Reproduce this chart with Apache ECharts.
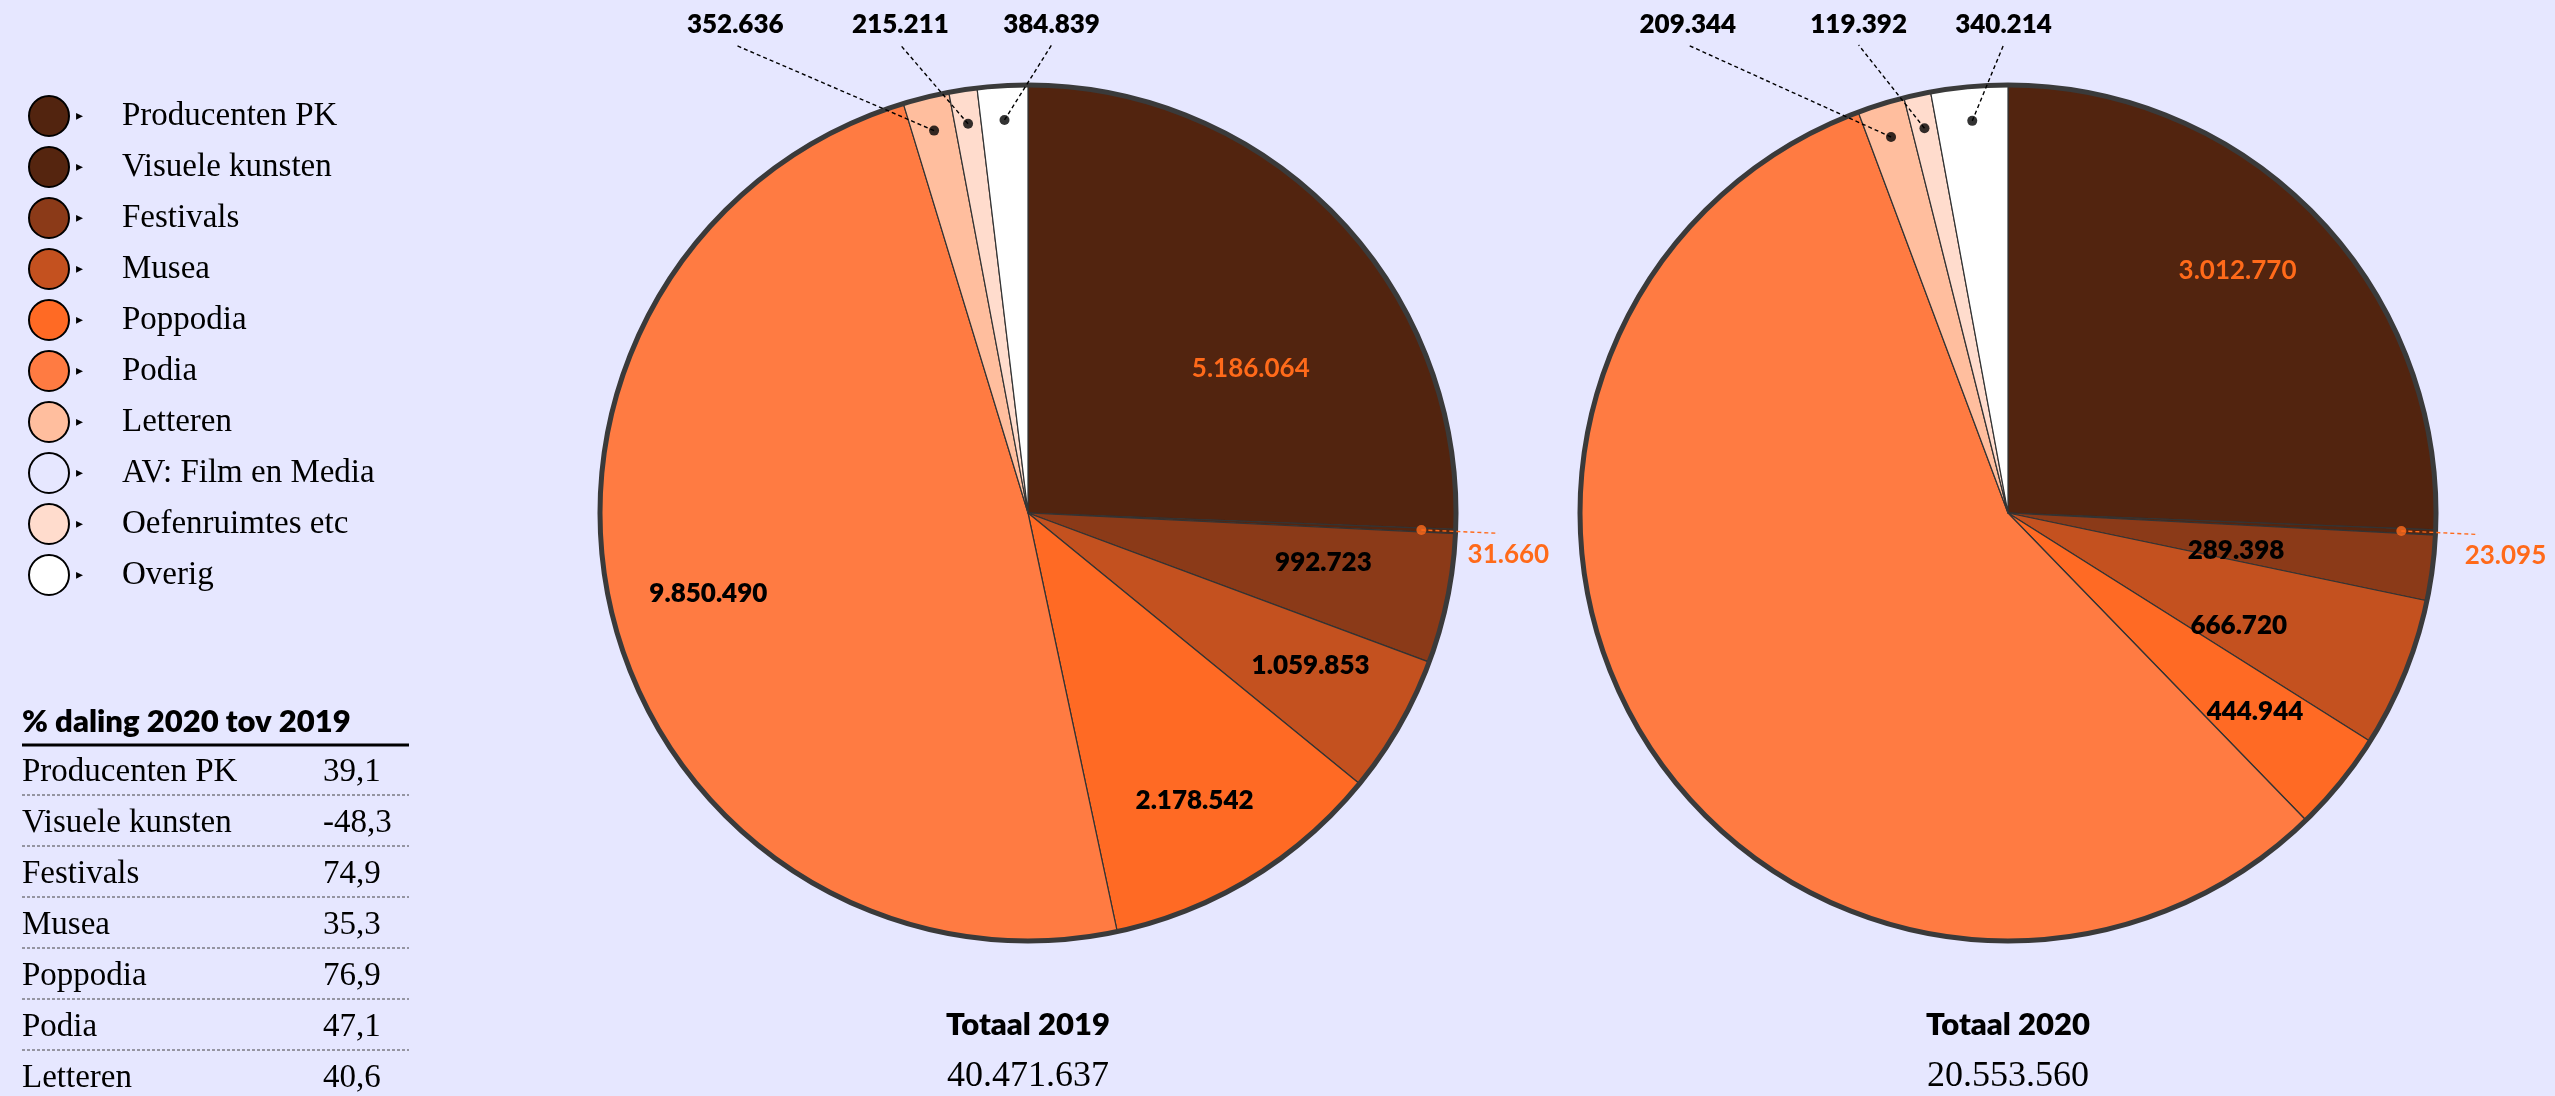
<!DOCTYPE html>
<html>
<head>
<meta charset="utf-8">
<script src="https://cdn.jsdelivr.net/npm/echarts@6/dist/echarts.min.js"></script>
<style>
html,body{margin:0;padding:0;background:#E6E7FF;}
#main{width:2555px;height:1096px;}
</style>
</head>
<body>
<div id="main"></div>
<script>
// ---------------- DATA ----------------
const categories = ['Producenten PK','Visuele kunsten','Festivals','Musea','Poppodia','Podia','Letteren','AV: Film en Media','Oefenruimtes etc','Overig'];
const values2019 = [5186064, 31660, 992723, 1059853, 2178542, 9850490, 352636, 0, 215211, 384839];
const values2020 = [3012770, 23095, 289398, 666720, 444944, 6650000, 209344, 0, 119392, 340214];
const years = ['2019', '2020'];
const totalLabels = ['40.471.637', '20.553.560'];
const tableTitle = '% daling 2020 tov 2019';
const declineCategories = ['Producenten PK','Visuele kunsten','Festivals','Musea','Poppodia','Podia','Letteren'];
const declineValues = ['39,1','-48,3','74,9','35,3','76,9','47,1','40,6'];

// ---------------- STYLE ----------------
const BG = '#E6E7FF';
const colors = ['#52240F','#55250F','#8B3A18','#C4511F','#FF6A24','#FF7B42','#FFBE9E',BG,'#FFDCCD','#FFFFFF'];
const ORANGE = '#FF6A1A';
const SANS = 'Lato, "Noto Sans", sans-serif';
const SERIF = '"Liberation Serif", "DejaVu Serif", serif';
const R = 428;
const POLAR_SCALE = 2;   // polar helper system is twice the pie radius (avoids clipping of leader lines)
const DOT_R = 0.92;
const SIDE_R = 1.10;
const TOP_TEXT_Y = 25, TOP_LINE_Y = 45;
const SIDE = 1;

const pies = [
  { center: [1028, 513], values: values2019, year: years[0], total: totalLabels[0], sideX: 1.027,
    inside: {0: [0.62, 11], 2: [0.70, -2], 3: [0.75, -1.5], 4: [0.776, 1.3], 5: [0.77, 0.4]},
    top: {6: -0.684, 8: -0.298, 9: 0.055}, hidden: [] },
  { center: [2008, 513], values: values2020, year: years[1], total: totalLabels[1], sideX: 1.067,
    inside: {0: [0.78, -2.7], 2: [0.54, 2], 3: [0.60, 4], 4: [0.74, -0.3]},
    top: {6: -0.748, 8: -0.349, 9: -0.0105}, hidden: [5] }
];

function fmt(v) { return String(v).replace(/\B(?=(\d{3})+(?!\d))/g, '.'); }
function sum(a) { return a.reduce((s, v) => s + v, 0); }
function cumMids(a) { let c = 0; return a.map(v => { const m = c + v / 2; c += v; return m; }); }

const chart = echarts.init(document.getElementById('main'), null, {renderer: 'canvas'});

function itemOpts(p, i) {
  const base = {fontFamily: SANS, fontSize: 26};
  if (p.hidden.indexOf(i) >= 0 || p.values[i] === 0) {
    return {label: {show: false}, labelLine: {show: false}};
  }
  if (p.inside[i]) {
    return {label: Object.assign({}, base, {show: true, position: 'inside', color: i === 0 ? ORANGE : '#000',
      fontWeight: i === 0 ? 700 : 800}), labelLine: {show: false}};
  }
  if (p.top[i] !== undefined) {
    return {label: Object.assign({}, base, {show: true, position: 'inside', color: '#000', fontWeight: 800}),
      labelLine: {show: false}};
  }
  if (i === SIDE) {
    return {label: Object.assign({}, base, {show: true, position: 'inside', color: ORANGE, fontWeight: 700}),
      labelLine: {show: false}};
  }
  return {label: {show: false}, labelLine: {show: false}};
}

function layoutFor(pIdx) {
  const p = pies[pIdx];
  return function (params) {
    const i = params.dataIndex;
    let lay = null;
    try { lay = chart.getModel().getSeriesByIndex(params.seriesIndex).getData().getItemLayout(i); } catch (e) {}
    if (!lay) return {};
    const cx = lay.cx, cy = lay.cy, r = lay.r;
    const mid = (lay.startAngle + lay.endAngle) / 2;
    if (p.inside[i]) {
      const a = mid + p.inside[i][1] * Math.PI / 180;
      const k = p.inside[i][0];
      return {x: cx + k * r * Math.cos(a), y: cy + k * r * Math.sin(a), align: 'center', verticalAlign: 'middle'};
    }
    if (p.top[i] !== undefined) {
      return {x: cx + p.top[i] * r, y: TOP_TEXT_Y, align: 'center', verticalAlign: 'middle'};
    }
    if (i === SIDE) {
      const endY = cy + SIDE_R * r * Math.sin(mid);
      return {x: cx + p.sideX * r, y: endY + 21, align: 'left', verticalAlign: 'middle'};
    }
    return {};
  };
}

const series = [];
pies.forEach((p, k) => {
  series.push({
    type: 'pie', name: 'pie' + p.year, center: p.center, radius: R, startAngle: 90, clockwise: true,
    avoidLabelOverlap: false, animation: false, silent: true,
    emphasis: {disabled: true},
    itemStyle: {borderColor: '#333', borderWidth: 1.2},
    labelLayout: layoutFor(k),
    label: {formatter: (d) => fmt(d.value)},
    data: categories.map((name, i) => Object.assign({
      name: name, value: p.values[i],
      itemStyle: {color: colors[i], borderWidth: p.values[i] === 0 ? 0 : 1.2}
    }, itemOpts(p, i)))
  });
});
pies.forEach((p) => {
  series.push({
    type: 'pie', name: 'outline' + p.year, center: p.center, radius: R, silent: true, animation: false,
    legendHoverLink: false, emphasis: {disabled: true}, label: {show: false}, labelLine: {show: false},
    itemStyle: {color: 'rgba(0,0,0,0)', borderColor: '#3a3a3a', borderWidth: 5},
    data: [{value: 1, name: ''}]
  });
});
pies.forEach((p, k) => {
  const mids = cumMids(p.values);
  const pts = [];
  categories.forEach((c, i) => {
    if (p.values[i] > 0 && (p.top[i] !== undefined || i === SIDE)) {
      pts.push({value: [DOT_R, mids[i]], itemStyle: {color: i === SIDE ? ORANGE : '#000'}});
    }
  });
  series.push({
    type: 'scatter', coordinateSystem: 'polar', polarIndex: k, symbol: 'circle', symbolSize: 10,
    silent: true, animation: false, z: 10, data: pts
  });
});

// graphic: table and totals
const graphic = [];
const TX = 22, TW = 387, VX = 323;
graphic.push({type: 'text', x: TX, y: 722, style: {text: tableTitle, fontFamily: SANS, fontWeight: 800, fontSize: 31, fill: '#000', align: 'left', verticalAlign: 'middle'}});
graphic.push({type: 'line', shape: {x1: TX, y1: 745, x2: TX + TW, y2: 745}, style: {stroke: '#000', lineWidth: 3}});
declineCategories.forEach((c, i) => {
  const y = 772 + 51 * i;
  graphic.push({type: 'text', x: TX, y: y, style: {text: c, fontFamily: SERIF, fontSize: 33, fill: '#000', align: 'left', verticalAlign: 'middle'}});
  graphic.push({type: 'text', x: VX, y: y, style: {text: declineValues[i], fontFamily: SERIF, fontSize: 33, fill: '#000', align: 'left', verticalAlign: 'middle'}});
  graphic.push({type: 'line', shape: {x1: TX, y1: y + 23, x2: TX + TW, y2: y + 23}, style: {stroke: '#444', lineWidth: 1, lineDash: [3, 2]}});
});
pies.forEach((p) => {
  graphic.push({type: 'text', x: p.center[0], y: 1025, style: {text: 'Totaal ' + p.year, fontFamily: SANS, fontWeight: 800, fontSize: 31, fill: '#000', align: 'center', verticalAlign: 'middle'}});
  graphic.push({type: 'text', x: p.center[0], y: 1077, style: {text: p.total, fontFamily: SERIF, fontSize: 36, fill: '#000', align: 'center', verticalAlign: 'middle'}});
});

const option = {
  backgroundColor: BG,
  animation: false,
  legend: {
    data: categories, orient: 'vertical', left: 23, top: 90, itemWidth: 40, itemHeight: 40, itemGap: 9,
    icon: 'circle', selectedMode: false,
    itemStyle: {borderColor: '#000', borderWidth: 2},
    formatter: (name) => '{t|\u25B8}{n|' + name + '}',
    textStyle: {rich: {
      t: {fontSize: 14, fontFamily: '"DejaVu Sans"', color: '#000', width: 46, padding: [0, 0, 0, 2], lineHeight: 40},
      n: {fontSize: 33, fontFamily: SERIF, color: '#000', lineHeight: 40}
    }}
  },
  polar: pies.map(p => ({center: p.center, radius: R * POLAR_SCALE})),
  angleAxis: pies.map((p, k) => ({polarIndex: k, type: 'value', min: 0, max: sum(p.values), startAngle: 90, clockwise: true, show: false})),
  radiusAxis: pies.map((p, k) => ({polarIndex: k, type: 'value', min: 0, max: POLAR_SCALE, show: false})),
  graphic: graphic,
  series: series
};
chart.setOption(option);

// leader lines drawn as polar line series (dot -> label anchor)
function toPolar(k, px) {
  let v = null;
  try { v = chart.convertFromPixel({polarIndex: k}, px); } catch (e) {}
  if (v && isFinite(v[0]) && isFinite(v[1])) return v;
  const p = pies[k];
  const dx = px[0] - p.center[0], dy = px[1] - p.center[1];
  let deg = Math.atan2(dx, -dy) * 180 / Math.PI; if (deg < 0) deg += 360;
  return [Math.sqrt(dx * dx + dy * dy) / R, deg / 360 * sum(p.values)];
}
const leaders = [];
pies.forEach((p, k) => {
  const mids = cumMids(p.values);
  Object.keys(p.top).forEach(key => {
    const i = +key;
    const end = toPolar(k, [p.center[0] + p.top[i] * R, TOP_LINE_Y]);
    leaders.push({type: 'line', coordinateSystem: 'polar', polarIndex: k, clip: false, symbol: 'none', silent: true,
      animation: false, z: 9, lineStyle: {color: '#000', width: 1.4, type: [4, 3]},
      data: [[DOT_R, mids[i]], end]});
  });
  leaders.push({type: 'line', coordinateSystem: 'polar', polarIndex: k, clip: false, symbol: 'none', silent: true,
    animation: false, z: 9, lineStyle: {color: ORANGE, width: 1.4, type: [4, 3]},
    data: [[DOT_R, mids[SIDE]], [SIDE_R, mids[SIDE]]]});
});
chart.setOption({series: series.concat(leaders)});
</script>
</body>
</html>
